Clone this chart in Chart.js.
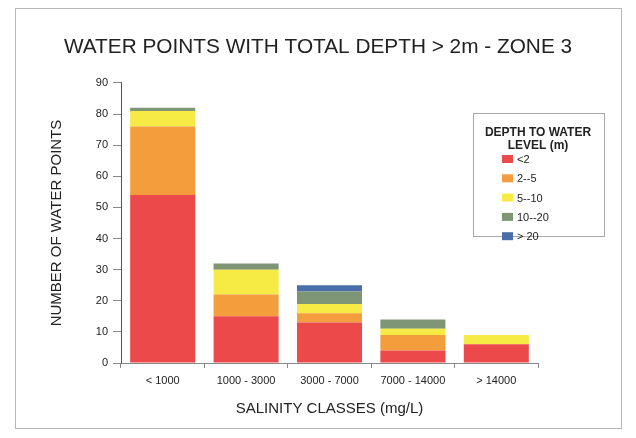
<!DOCTYPE html>
<html>
<head>
<meta charset="utf-8">
<title>Water points - Zone 3</title>
<script src="https://cdn.jsdelivr.net/npm/chart.js@4/dist/chart.umd.min.js"></script>
<style>
  html, body { margin: 0; padding: 0; background: #fff; }
  #wrap { position: relative; width: 636px; height: 438px; }
</style>
</head>
<body>
<div id="wrap"><canvas id="salinityChart" width="636" height="438"></canvas></div>
<script>
// salinity classes and counts per depth-to-water class
const classes = ['< 1000', '1000 - 3000', '3000 - 7000', '7000 - 14000', '> 14000'];
const depthLabels = ['<2', '2--5', '5--10', '10--20', '> 20'];
const depthColors = ['#ec4a4a', '#f49d3c', '#f6ea45', '#7e9675', '#4b6ea8'];
const lt2 = [54, 15, 13, 4, 6];
const d2to5 = [22, 7, 3, 5, 0];
const d5to10 = [5, 8, 3, 2, 3];
const d10to20 = [1, 2, 4, 3, 0];
const gt20 = [0, 0, 2, 0, 0];
const yTicks = [0, 10, 20, 30, 40, 50, 60, 70, 80, 90];

const seriesValues = [lt2, d2to5, d5to10, d10to20, gt20];
const FONT = '"Liberation Sans", Arial, sans-serif';

// page frame + boxed legend on the right
const frameAndLegend = {
    id: 'frameAndLegend',
    beforeDraw(chart) {
        const ctx = chart.ctx;
        ctx.save();
        ctx.strokeStyle = '#b8b8b8';
        ctx.lineWidth = 1;
        ctx.strokeRect(15.5, 8.5, 606, 420);
        ctx.restore();
    },
    afterDraw(chart) {
        const ctx = chart.ctx;
        ctx.save();
        ctx.strokeStyle = '#a8a8a8';
        ctx.lineWidth = 1;
        ctx.strokeRect(473.5, 113.5, 131, 123);

        ctx.fillStyle = '#222';
        ctx.textAlign = 'center';
        ctx.textBaseline = 'middle';
        ctx.font = 'bold 12px ' + FONT;
        ctx.fillText('DEPTH TO WATER', 538, 133);
        ctx.fillText('LEVEL (m)', 538, 146);

        ctx.font = '11px ' + FONT;
        ctx.textAlign = 'left';
        chart.data.datasets.forEach((ds, i) => {
            const y = 159 + i * 19.3;
            ctx.fillStyle = ds.backgroundColor;
            ctx.fillRect(502, y - 4, 11, 8);
            ctx.fillStyle = '#222';
            ctx.fillText(ds.label, 517, y + 1);
        });
        ctx.restore();
    }
};

const ctx = document.getElementById('salinityChart').getContext('2d');
new Chart(ctx, {
    type: 'bar',
    data: {
        labels: classes,
        datasets: seriesValues.map((vals, i) => ({
            label: depthLabels[i],
            data: vals,
            backgroundColor: depthColors[i],
            borderWidth: 0,
            barPercentage: 0.78,
            categoryPercentage: 1
        }))
    },
    options: {
        responsive: false,
        animation: false,
        layout: { padding: 0 },
        plugins: {
            legend: { display: false },
            tooltip: { enabled: false },
            title: {
                display: true,
                text: 'WATER POINTS WITH TOTAL DEPTH > 2m - ZONE 3',
                color: '#222',
                font: { family: FONT, size: 20.8, weight: 'normal', lineHeight: 1.2 },
                padding: { top: 35, bottom: 23 }
            }
        },
        scales: {
            x: {
                stacked: true,
                afterFit(scale) { scale.height = 75; },
                grid: { drawOnChartArea: false, tickLength: 5, color: '#888' },
                border: { color: '#888' },
                ticks: {
                    color: '#222',
                    padding: 6,
                    font: { family: FONT, size: 11 }
                },
                title: {
                    display: true,
                    text: 'SALINITY CLASSES (mg/L)',
                    color: '#222',
                    font: { family: FONT, size: 15 },
                    padding: { top: 0, bottom: 20 }
                }
            },
            y: {
                stacked: true,
                min: 0,
                max: 90,
                afterFit(scale) { scale.width = 121; },
                afterBuildTicks(scale) { scale.ticks = yTicks.map(v => ({ value: v })); },
                grid: { drawOnChartArea: false, tickLength: 8, color: '#888' },
                border: { color: '#555' },
                ticks: {
                    color: '#222',
                    padding: 5,
                    font: { family: FONT, size: 11 }
                },
                title: {
                    display: true,
                    text: 'NUMBER OF WATER POINTS',
                    color: '#222',
                    font: { family: FONT, size: 15 },
                    padding: { top: 48, bottom: 0 }
                }
            },
            // empty right-hand band that keeps the legend clear of the bars
            side: {
                type: 'linear',
                position: 'right',
                afterFit(scale) { scale.width = 98; },
                grid: { display: false },
                border: { display: false },
                ticks: { display: false }
            }
        }
    },
    plugins: [frameAndLegend]
});
</script>
</body>
</html>
